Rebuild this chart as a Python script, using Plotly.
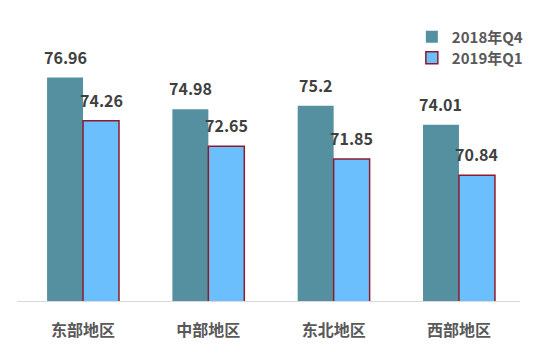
import plotly.graph_objects as go

categories = ["东部地区", "中部地区", "东北地区", "西部地区"]
q4_2018 = [76.96, 74.98, 75.2, 74.01]
q1_2019 = [74.26, 72.65, 71.85, 70.84]
series_names = ["2018年Q4", "2019年Q1"]

FONT = "Noto Sans CJK SC"
xs = list(range(len(categories)))
W = 0.287

fig = go.Figure()
fig.add_trace(go.Bar(
    x=xs, y=q4_2018, name=series_names[0], width=W, offset=-W,
    marker=dict(color="#5590A1", line=dict(width=0)), legend="legend",
))
fig.add_trace(go.Bar(
    x=xs, y=q1_2019, name=series_names[1], width=W, offset=0,
    marker=dict(color="#6CBFFD", line=dict(color="#8E1B2C", width=1.5)), legend="legend2",
))

for i, v in enumerate(q4_2018):
    fig.add_annotation(x=i - W / 2, y=v, text=f"<b>{v}</b>", showarrow=False,
                       yanchor="bottom", yshift=7,
                       font=dict(family=FONT, size=16, color="#404040"))
for i, v in enumerate(q1_2019):
    fig.add_annotation(x=i + W / 2, y=v, text=f"<b>{v}</b>", showarrow=False,
                       yanchor="bottom", yshift=7,
                       font=dict(family=FONT, size=16, color="#404040"))

legend_font = dict(family=FONT, size=15, color="#595959", weight="bold")
# page body has an 8px margin: size figure so it fills the 558x361 window
fig.update_layout(
    width=550, height=353,
    margin=dict(l=9, r=38, t=16, b=60),
    paper_bgcolor="white", plot_bgcolor="white",
    barmode="overlay",
    font=dict(family=FONT, color="#595959"),
    showlegend=True,
    legend=dict(x=0.785, y=0.953, xanchor="left", yanchor="middle",
                font=legend_font, itemwidth=30, bgcolor="rgba(0,0,0,0)"),
    legend2=dict(x=0.785, y=0.877, xanchor="left", yanchor="middle",
                 font=legend_font, itemwidth=30, bgcolor="rgba(0,0,0,0)"),
    xaxis=dict(range=[-0.527, 3.487], tickvals=xs, ticktext=[f"<b>{c}</b>" for c in categories],
               tickfont=dict(family=FONT, size=16, color="#595959"),
               ticklabelstandoff=15,
               showline=True, linecolor="#D9D9D9", linewidth=1, ticks="",
               showgrid=False, zeroline=False),
    yaxis=dict(range=[62.95, 80.32], visible=False, showgrid=False, zeroline=False),
)

fig.write_html("out.html")
